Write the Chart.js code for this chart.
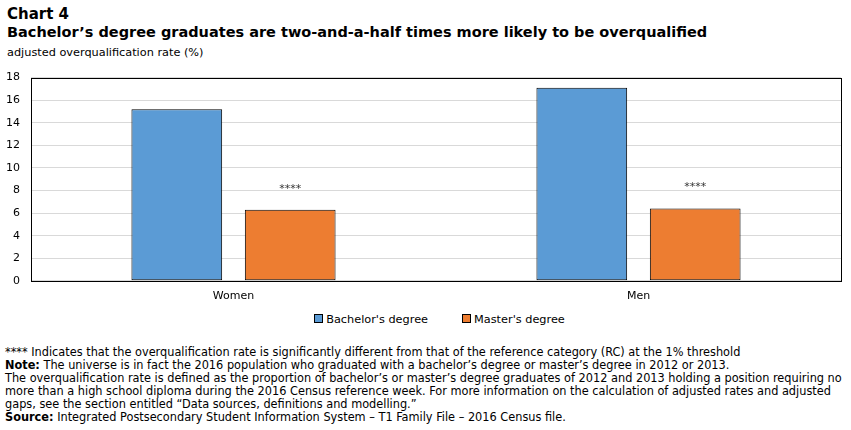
<!DOCTYPE html>
<html>
<head>
<meta charset="utf-8">
<script src="https://cdn.jsdelivr.net/npm/chart.js@4.4.1/dist/chart.umd.min.js"></script>
<style>
  body { margin: 0; width: 851px; height: 430px; background: #fff; font-family: "DejaVu Sans", Verdana, sans-serif; color: #000; position: relative; overflow: hidden; }
  #t1 { position: absolute; left: 7px; top: 5px; font-size: 15px; font-weight: bold; }
  #t2 { position: absolute; left: 7px; top: 24px; font-size: 14.5px; font-weight: bold; }
  #unit { position: absolute; left: 7px; top: 46px; font-size: 11.3px; }
  #box { position: absolute; left: 0; top: 60px; width: 851px; height: 252px; }
  #legend { position: absolute; left: 14px; top: 313px; width: 851px; text-align: center; font-size: 11.3px; }
  #legend span.item { display: inline-block; margin: 0 17px; }
  #legend span.sw { display: inline-block; width: 7px; height: 7px; border: 1px solid #000; margin-right: 3px; vertical-align: 0px; }
  #notes { position: absolute; left: 5px; top: 345px; width: 844px; font-family: "DejaVu Sans Condensed", "DejaVu Sans", sans-serif; font-size: 12.6px; line-height: 13px; }
</style>
</head>
<body>
<div id="t1">Chart 4</div>
<div id="t2">Bachelor’s degree graduates are two-and-a-half times more likely to be overqualified</div>
<div id="unit">adjusted overqualification rate (%)</div>
<div id="box"><canvas id="myChart"></canvas></div>
<div id="legend"></div>
<div id="notes">
  **** Indicates that the overqualification rate is significantly different from that of the reference category (RC) at the 1% threshold<br>
  <b>Note:</b> The universe is in fact the 2016 population who graduated with a bachelor’s degree or master’s degree in 2012 or 2013.<br>
  The overqualification rate is defined as the proportion of bachelor’s or master’s degree graduates of 2012 and 2013 holding a position requiring no more than a high school diploma during the 2016 Census reference week. For more information on the calculation of adjusted rates and adjusted gaps, see the section entitled “Data sources, definitions and modelling.”<br>
  <b>Source:</b> Integrated Postsecondary Student Information System – T1 Family File – 2016 Census file.
</div>
<script>
var categories = ['Women', 'Men'];
var bachelor = [15.2, 17.1];
var master = [6.3, 6.4];
var masterMarks = ['****', '****'];
var yTicks = [0, 2, 4, 6, 8, 10, 12, 14, 16, 18];

// cadre autour de la zone du graphique + les astérisques
var framePlugin = {
	id: 'frame',
	afterDatasetsDraw: function(chart) {
		var ctx = chart.ctx;
		var a = chart.chartArea;
		ctx.save();
		ctx.strokeStyle = '#000';
		ctx.lineWidth = 1;
		ctx.strokeRect(Math.round(a.left) + 0.5, Math.round(a.top) + 0.5, Math.round(a.right - a.left), Math.round(a.bottom - a.top));

		var meta = chart.getDatasetMeta(1);
		ctx.fillStyle = '#333';
		ctx.font = '11px "DejaVu Sans"';
		ctx.textAlign = 'center';
		ctx.textBaseline = 'middle';
		meta.data.forEach(function(bar, i) {
			var y = chart.scales.y.getPixelForValue(master[i]) - 21;
			ctx.fillText(masterMarks[i], bar.x, y);
		});
		ctx.restore();
	}
};

var ctx = document.getElementById('myChart').getContext('2d');
var myChart = new Chart(ctx, {
	type: 'bar',
	data: {
		labels: categories,
		datasets: [
			{
				label: 'Bachelor\'s degree',
				data: bachelor,
				backgroundColor: '#5b9bd5',
				borderColor: '#000',
				borderWidth: 1,
				borderSkipped: false,
				categoryPercentage: 0.56,
				barPercentage: 0.8
			},
			{
				label: 'Master\'s degree',
				data: master,
				backgroundColor: '#ed7d31',
				borderColor: '#000',
				borderWidth: 1,
				borderSkipped: false,
				categoryPercentage: 0.56,
				barPercentage: 0.8
			}
		]
	},
	options: {
		responsive: true,
		maintainAspectRatio: false,
		animation: false,
		layout: { padding: { left: 0, right: 10, top: 0, bottom: 0 } },
		plugins: {
			tooltip: { enabled: false },
			legend: { display: false }
		},
		scales: {
			x: {
				grid: { display: false, drawTicks: false },
				border: { display: false },
				ticks: { color: '#000', padding: 9, font: { family: 'DejaVu Sans', size: 11 } }
			},
			y: {
				min: 0,
				max: 18,
				afterBuildTicks: function(scale) {
					scale.ticks = yTicks.map(function(v) { return { value: v }; });
				},
				afterFit: function(scale) { scale.width = 31; },
				grid: { color: '#d9d9d9', drawTicks: false },
				border: { display: false },
				ticks: { color: '#000', padding: 11, font: { family: 'DejaVu Sans', size: 11 } }
			}
		}
	},
	plugins: [framePlugin]
});

// légende
var legend = document.getElementById('legend');
myChart.data.datasets.forEach(function(ds) {
	var item = document.createElement('span');
	item.className = 'item';
	item.innerHTML = '<span class="sw" style="background:' + ds.backgroundColor + '"></span>' + ds.label;
	legend.appendChild(item);
});
</script>
</body>
</html>
